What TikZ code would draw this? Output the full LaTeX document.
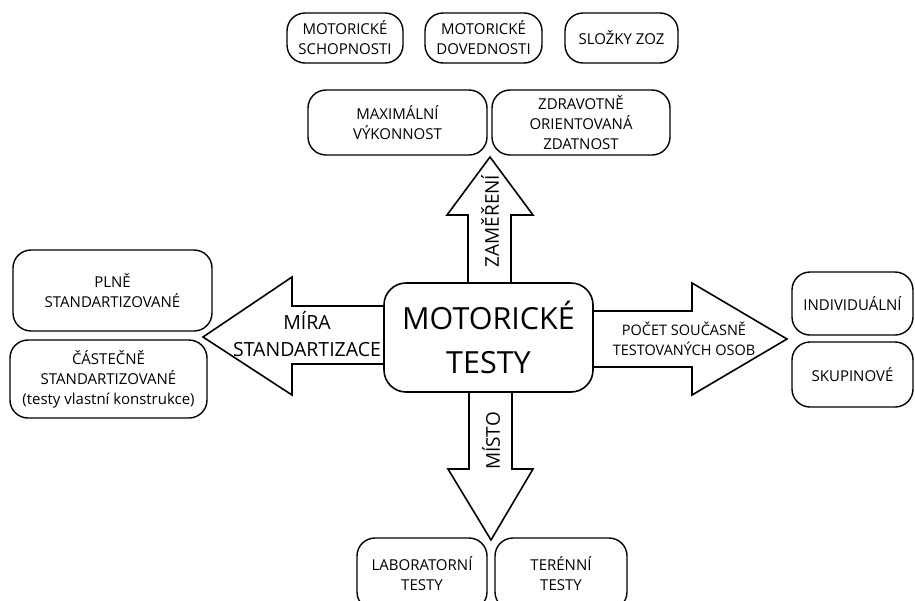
\documentclass[tikz,border=0pt]{standalone}
\usepackage{fontspec}
\setmainfont{Open Sans}
\usepackage{tikz}
\usetikzlibrary{calc}
\tikzset{
  box/.style={draw,line width=1.4pt,rounded corners=18pt,align=center,inner sep=0pt,
    font=\fontsize{15}{20}\selectfont},
  bigbox/.style={box,line width=1.6pt,rounded corners=22pt,font=\fontsize{30.5}{44}\selectfont},
  blockarrow/.style={draw,line width=1.6pt,fill=white,line join=miter}
}
\begin{document}
\begin{tikzpicture}[x=1pt,y=-1pt]
\clip (0,0) rectangle (915,600);
\useasboundingbox (0,0) rectangle (915,600);
% block arrows
\draw[blockarrow] (468,290)--(468,215)--(447,215)--(490,157)--(533,215)--(511,215)--(511,290); % up
\draw[blockarrow] (469,385)--(469,469)--(448,469)--(491,540)--(533,469)--(512,469)--(512,385); % down
\draw[blockarrow] (390,306)--(292,306)--(292,277)--(203,337)--(292,395)--(292,364)--(390,364); % left
\draw[blockarrow] (588,311)--(692,311)--(692,283)--(787,339)--(692,395)--(692,367)--(588,367); % right
% centre
\node[bigbox,fill=white,minimum width=209pt,minimum height=109pt] (testy) at (488.5,337.5) {MOTORICKÉ\\TESTY};
% arrow labels
\node[rotate=90,font=\fontsize{19}{22}\selectfont] (zamer) at (490,221) {ZAMĚŘENÍ};
\node[rotate=90,font=\fontsize{19}{22}\selectfont] (misto) at (491,441) {MÍSTO};
\node[align=center,font=\fontsize{19.5}{27}\selectfont] (mira) at (307,334) {MÍRA\\STANDARTIZACE};
\node[align=center,font=\fontsize{14.5}{20}\selectfont] (pocet) at (684,339) {POČET SOUČASNĚ\\TESTOVANÝCH OSOB};
% top row
\node[box,minimum width=116pt,minimum height=50pt] (schop) at (345,38) {MOTORICKÉ\\SCHOPNOSTI};
\node[box,minimum width=117pt,minimum height=50pt] (doved) at (483.5,38) {MOTORICKÉ\\DOVEDNOSTI};
\node[box,minimum width=113pt,minimum height=50pt] (zoz) at (621.5,38) {SLOŽKY ZOZ};
% second row
\node[box,minimum width=179pt,minimum height=65pt] (maxvyk) at (397.5,122.5) {MAXIMÁLNÍ\\VÝKONNOST};
\node[box,minimum width=178pt,minimum height=65pt] (zdrav) at (581,122.5) {ZDRAVOTNĚ\\ORIENTOVANÁ\\ZDATNOST};
% left
\node[box,minimum width=199pt,minimum height=81pt] (plne) at (112.5,290.5) {PLNĚ\\STANDARTIZOVANÉ};
\node[box,minimum width=197pt,minimum height=78pt] (cast) at (108.5,379) {ČÁSTEČNĚ\\STANDARTIZOVANÉ\\(testy vlastní konstrukce)};
% right
\node[box,minimum width=121pt,minimum height=63pt] (indiv) at (852.5,303.5) {INDIVIDUÁLNÍ};
\node[box,minimum width=121pt,minimum height=65pt] (skup) at (852.5,374.5) {SKUPINOVÉ};
% bottom
\node[box,minimum width=130pt,minimum height=72pt] (lab) at (422,574) {LABORATORNÍ\\TESTY};
\node[box,minimum width=132pt,minimum height=72pt] (teren) at (561,574) {TERÉNNÍ\\TESTY};
\end{tikzpicture}
\end{document}
